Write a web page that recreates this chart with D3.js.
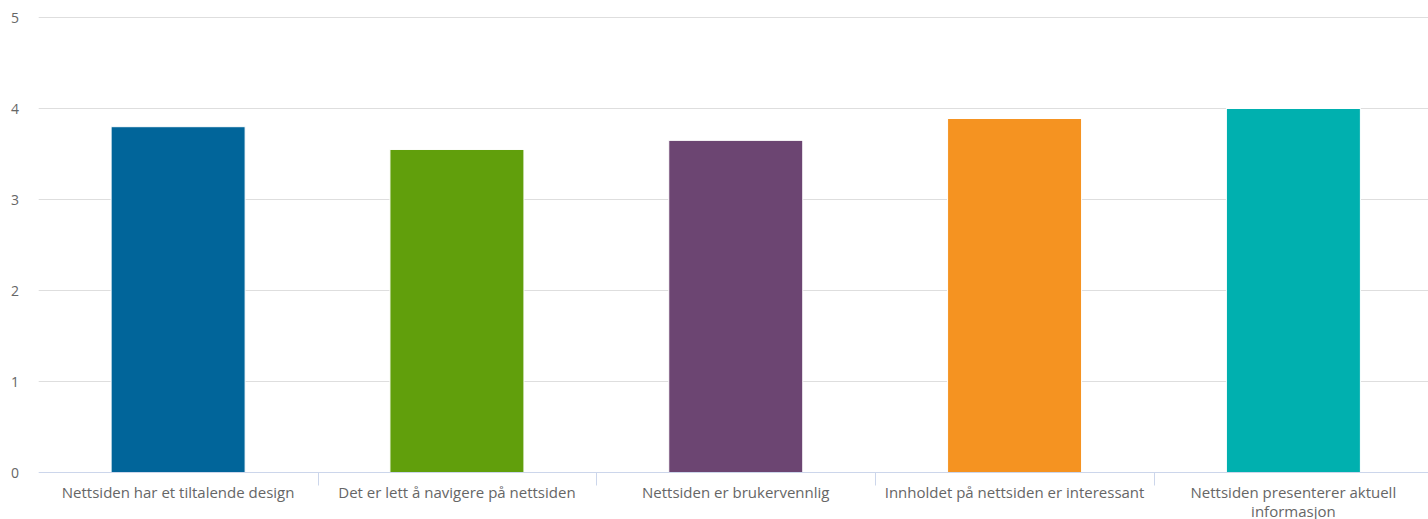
<!DOCTYPE html>
<html><head><meta charset="utf-8">
<script src="https://cdn.jsdelivr.net/npm/d3@7"></script>
<style>body{margin:0;background:#fff;overflow:hidden}svg{display:block;font-family:"Open Sans",sans-serif}</style>
</head><body><svg id="c" width="1428" height="519"></svg>
<script>
const categories = ["Nettsiden har et tiltalende design","Det er lett å navigere på nettsiden","Nettsiden er brukervennlig","Innholdet på nettsiden er interessant","Nettsiden presenterer aktuell informasjon"];
const values = [3.80, 3.55, 3.65, 3.89, 4.0];
const colors = ["#01659a","#619f0c","#6c4572","#f59321","#00b0af"];
const yTicks = [0,1,2,3,4,5];

(function(){
const svg = d3.select("#c");
const pLeft = 38.7, pRight = 1432.8, pTop = 17.5, pBottom = 472.5;
const x = d3.scaleBand().domain(categories).range([pLeft, pRight]).paddingInner(0).paddingOuter(0);
const y = d3.scaleLinear().domain([0,5]).range([pBottom, pTop]);

svg.append("g").selectAll("line").data(yTicks.filter(d=>d>0)).join("line")
  .attr("x1", pLeft).attr("x2", 1428).attr("y1", d=>y(d)).attr("y2", d=>y(d))
  .attr("stroke","#dedede").attr("stroke-width",1);

svg.append("g").selectAll("text").data(yTicks).join("text")
  .attr("x", 19).attr("y", d=>y(d)+5).attr("text-anchor","end")
  .attr("font-size", 14).attr("fill","#666").text(d=>d);

const bw = 134;
svg.append("g").selectAll("rect").data(values).join("rect")
  .attr("x",(d,i)=>x(categories[i])+x.bandwidth()/2-bw/2)
  .attr("width", bw)
  .attr("y", d=>y(d)).attr("height", d=>pBottom - y(d))
  .attr("fill",(d,i)=>colors[i]).attr("stroke","#fff").attr("stroke-width",1);

svg.append("line").attr("x1",pLeft).attr("x2",1428).attr("y1",pBottom).attr("y2",pBottom).attr("stroke","#ccd6eb");
svg.append("g").selectAll("line").data(categories.slice(1)).join("line")
  .attr("x1",d=>Math.round(x(d))+0.5).attr("x2",d=>Math.round(x(d))+0.5)
  .attr("y1",pBottom).attr("y2",pBottom+13).attr("stroke","#ccd6eb");

const lbl = svg.append("g").selectAll("text").data(categories).join("text")
  .attr("text-anchor","middle").attr("font-size",15).attr("fill","#666")
  .attr("x", d=>x(d)+x.bandwidth()/2).attr("y", 498);
lbl.each(function(d){
  const t = d3.select(this);
  const maxW = x.bandwidth()-12;
  const words = d.split(" ");
  let line = [], lines = [];
  const tmp = t.append("tspan");
  words.forEach(w=>{
    line.push(w);
    tmp.text(line.join(" "));
    if (tmp.node().getComputedTextLength() > maxW && line.length>1){
      line.pop(); lines.push(line.join(" ")); line=[w];
    }
  });
  lines.push(line.join(" "));
  tmp.remove();
  lines.forEach((l,i)=>t.append("tspan").attr("x", x(d)+x.bandwidth()/2).attr("dy", i?19:0).text(l));
});
})();
</script></body></html>
